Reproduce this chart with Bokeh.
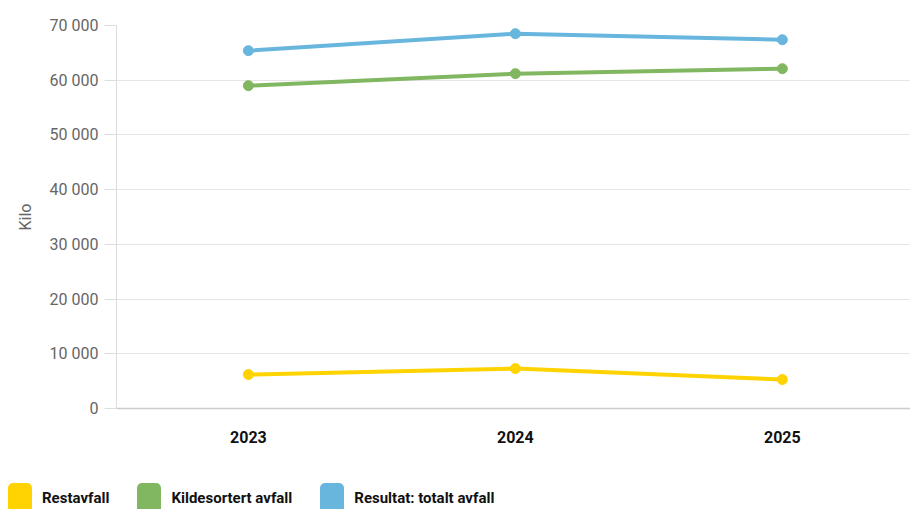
from bokeh.plotting import figure
from bokeh.layouts import column
from bokeh.models import FixedTicker, Range1d, Div
from bokeh.embed import file_html
from bokeh.resources import INLINE

years = [2023, 2024, 2025]
restavfall = [6200, 7300, 5300]
kildesortert = [59000, 61200, 62100]
totalt = [65400, 68500, 67400]
series_names = ["Restavfall", "Kildesortert avfall", "Resultat: totalt avfall"]
colors = ["#FFD300", "#82B762", "#68B6DD"]
y_ticks = [0, 10000, 20000, 30000, 40000, 50000, 60000, 70000]
y_tick_labels = ["0", "10 000", "20 000", "30 000", "40 000", "50 000", "60 000", "70 000"]

p = figure(width=910, height=483, output_backend="svg", toolbar_location=None,
           x_range=Range1d(2022.506, 2025.48), y_range=Range1d(0, 70000),
           min_border_left=116, min_border_right=0, min_border_top=25, min_border_bottom=75)
p.outline_line_color = None

# y axis
p.yaxis.ticker = FixedTicker(ticks=y_ticks)
p.yaxis.major_label_overrides = {t: l for t, l in zip(y_ticks, y_tick_labels)}
p.yaxis.major_label_text_font = "Roboto"
p.yaxis.major_label_text_font_size = "16px"
p.yaxis.major_label_text_color = "#666666"
p.yaxis.axis_line_color = "#dddddd"
p.yaxis.major_tick_line_color = "#dddddd"
p.yaxis.major_tick_out = 12
p.yaxis.major_tick_in = 0
p.yaxis.minor_tick_line_color = None
p.yaxis.major_label_standoff = 6
p.yaxis.axis_label = "Kilo"
p.yaxis.axis_label_text_font = "Roboto"
p.yaxis.axis_label_text_font_style = "normal"
p.yaxis.axis_label_text_font_size = "16px"
p.yaxis.axis_label_text_color = "#666666"
p.yaxis.axis_label_standoff = 12

# x axis
p.xaxis.ticker = FixedTicker(ticks=years)
p.xaxis.major_label_text_font = "Roboto"
p.xaxis.major_label_text_font_style = "bold"
p.xaxis.major_label_text_font_size = "16px"
p.xaxis.major_label_text_color = "#111111"
p.xaxis.axis_line_color = "#cccccc"
p.xaxis.axis_line_width = 1.5
p.xaxis.major_tick_line_color = None
p.xaxis.minor_tick_line_color = None
p.xaxis.major_label_standoff = 16

p.xgrid.grid_line_color = None
p.ygrid.grid_line_color = "#e6e6e6"

for name, vals, c in zip(series_names, [restavfall, kildesortert, totalt], colors):
    p.line(years, vals, line_color=c, line_width=4)
    p.scatter(years, vals, size=10, fill_color=c, line_color=c)

# legend strip below the chart (cut off by the window like the reference)
item_html = "".join(
    f'<div style="display:flex;align-items:flex-start;margin-right:28px;">'
    f'<span style="display:inline-block;width:24px;height:46px;background:{c};'
    f'border-radius:5px;margin-right:10px;"></span>'
    f'<span style="white-space:nowrap;padding-top:5px;">{name}</span></div>'
    for name, c in zip(series_names, colors)
)
legend_html = (
    '<div style="display:flex;align-items:flex-start;padding-left:8px;'
    'font-family:Roboto;font-weight:bold;font-size:15px;color:#111111;">'
    + item_html + '</div>'
)
legend_div = Div(text=legend_html, width=910, height=26, margin=0,
                 styles={"overflow": "hidden"})

open("out.html", "w").write(file_html(column(p, legend_div, spacing=0), INLINE))
